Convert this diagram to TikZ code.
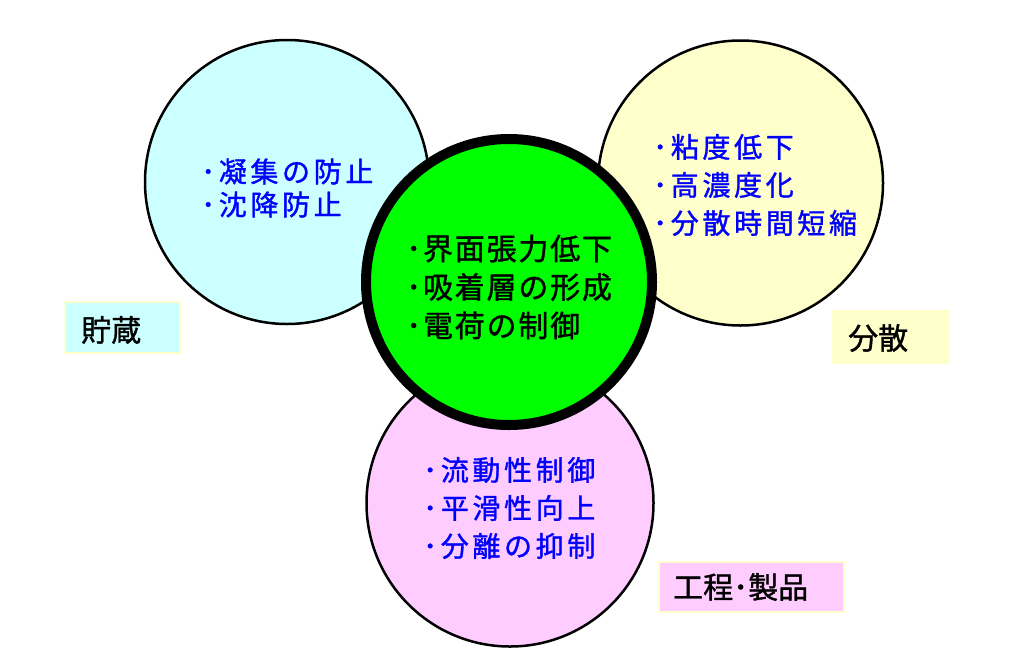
\documentclass[tikz,border=0pt]{standalone}
\usepackage{fontspec}
\newfontfamily\jpfont[LetterSpace=13,FakeBold=1.2]{Noto Sans CJK JP}
\newfontfamily\jpcenter[LetterSpace=6,FakeBold=1.2]{Noto Sans CJK JP}
\newfontfamily\jplabel[FakeBold=1.2]{Noto Sans CJK JP}
\definecolor{cyanfill}{HTML}{CCFFFF}
\definecolor{yellowfill}{HTML}{FFFFCC}
\definecolor{pinkfill}{HTML}{FFCCFF}
\definecolor{greenfill}{HTML}{00FF00}
\definecolor{bluetext}{HTML}{0000FF}
\begin{document}
\begin{tikzpicture}[x=1pt,y=-1pt,
  outercircle/.style={circle,draw=black,line width=2.5pt,inner sep=0pt},
  centercircle/.style={circle,draw=black,line width=10pt,inner sep=0pt,fill=greenfill,minimum size=286pt},
  bluelist/.style={anchor=west,inner sep=0pt,align=left,text=bluetext,font=\jpfont\fontsize{28}{38}\selectfont},
  blacklist/.style={anchor=west,inner sep=0pt,align=left,text=black,font=\jpcenter\fontsize{30}{38.5}\selectfont},
  labelbox/.style={rectangle,inner sep=0pt,line width=2pt},
  labeltext/.style={anchor=west,inner sep=0pt,text=black,font=\jplabel\fontsize{30}{36}\selectfont}
]
\useasboundingbox[fill=white] (0,0) rectangle (1016,654);

% outer circles
\node[outercircle,fill=cyanfill,minimum size=284pt] (storage) at (287,182) {};
\node[outercircle,fill=yellowfill,minimum size=285pt] (dispersion) at (740.5,183) {};
\node[outercircle,fill=pinkfill,minimum size=287pt] (process) at (510,503) {};
% center circle
\node[centercircle] (core) at (509,282) {};

% texts
\node[bluelist,font=\jpfont\fontsize{28}{33}\selectfont] (storagetext) at (201,188) {･凝集の防止\\･沈降防止};
\node[bluelist] (dispersiontext) at (653,185) {･粘度低下\\･高濃度化\\･分散時間短縮};
\node[bluelist] (processtext) at (423,508) {･流動性制御\\･平滑性向上\\･分離の抑制};
\node[blacklist] (coretext) at (406,287) {･界面張力低下\\･吸着層の形成\\･電荷の制御};

% label boxes
\node[labelbox,fill=cyanfill,draw=yellowfill,minimum width=115pt,minimum height=51pt] (storagebox) at (122.5,327.5) {};
\node[labeltext] (storagelabel) at (81,330) {貯蔵};
\node[labelbox,fill=yellowfill,draw=yellowfill,minimum width=115pt,minimum height=52pt] (dispersionbox) at (890.5,337) {};
\node[labeltext] (dispersionlabel) at (848,338) {分散};
\node[labelbox,fill=pinkfill,draw=yellowfill,minimum width=185pt,minimum height=50pt] (processbox) at (751.5,587) {};
\node[labeltext] (processlabel) at (673,587) {工程･製品};
\end{tikzpicture}
\end{document}
